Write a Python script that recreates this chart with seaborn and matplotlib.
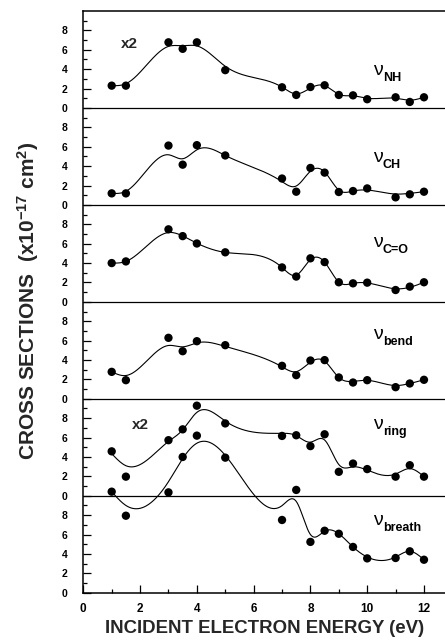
import numpy as np
import pandas as pd
import matplotlib
matplotlib.use("Agg")
import matplotlib.pyplot as plt
import seaborn as sns
from matplotlib.ticker import FixedLocator

# Incident electron energies (eV)
energy = [1, 1.5, 3, 3.5, 4, 5, 7, 7.5, 8, 8.5, 9, 9.5, 10, 11, 11.5, 12]

# Measured cross sections (x1e-17 cm^2) and smooth-fit knots, one pair per mode
nh_pts = [2.3, 2.3, 6.77, 6.1, 6.77, 3.9, 2.13, 1.34, 2.16, 2.34, 1.34, 1.3, 0.9, 1.1, 0.62, 1.1]
nh_fit = [2.3, 2.5, 6.35, 6.42, 6.4, 4.3, 2.15, 1.45, 2.05, 2.3, 1.4, 1.25, 1.0, 1.0, 0.8, 1.1]

ch_pts = [1.19, 1.19, 6.12, 4.15, 6.16, 5.1, 2.72, 1.36, 3.81, 3.33, 1.33, 1.43, 1.7, 0.78, 1.09, 1.36]
ch_fit = [1.19, 1.4, 5.17, 4.76, 5.68, 5.1, 2.4, 1.95, 3.47, 3.4, 1.53, 1.43, 1.53, 1.12, 1.19, 1.36]

co_pts = [4.0, 4.17, 7.48, 6.78, 6.02, 5.11, 3.55, 2.61, 4.49, 4.1, 2.02, 1.91, 1.98, 1.22, 1.57, 2.02]
co_fit = [4.0, 4.17, 7.15, 6.8, 6.05, 5.1, 3.55, 2.75, 4.35, 4.1, 2.05, 1.91, 1.95, 1.35, 1.5, 2.02]

bend_pts = [2.78, 1.92, 6.29, 4.91, 5.94, 5.53, 3.4, 2.44, 3.95, 3.99, 2.2, 1.68, 1.92, 1.2, 1.58, 1.96]
bend_fit = [2.78, 2.4, 5.5, 5.36, 5.77, 5.4, 3.3, 2.8, 3.78, 3.88, 2.2, 1.8, 1.9, 1.37, 1.58, 1.96]

ring_pts = [4.58, 1.97, 5.73, 6.85, 9.29, 7.46, 6.17, 6.24, 5.12, 6.34, 2.47, 3.32, 2.75, 1.97, 3.15, 1.97]
ring_fit = [4.34, 3.1, 5.6, 6.8, 8.6, 7.7, 6.44, 6.2, 5.53, 5.75, 3.22, 2.98, 2.64, 2.24, 2.8, 1.97]

breath_pts = [10.42, 7.94, 10.35, 14.0, 16.2, 13.93, 7.5, 10.6, 5.24, 6.39, 6.08, 4.72, 3.54, 3.58, 4.27, 3.4]
breath_fit = [10.42, 9.0, 11.45, 13.83, 15.42, 14.17, 8.98, 9.42, 6.0, 6.35, 6.08, 4.72, 3.68, 3.68, 4.27, 3.4]

# Panel layout: (subscript label, points, fit, vertical offset)
modes = [
    ("NH", nh_pts, nh_fit, 50),
    ("CH", ch_pts, ch_fit, 40),
    ("C=O", co_pts, co_fit, 30),
    ("bend", bend_pts, bend_fit, 20),
    ("ring", ring_pts, ring_fit, 10),
    ("breath", breath_pts, breath_fit, 0),
]
label_y = {"NH": 53.4, "CH": 44.46, "C=O": 35.69, "bend": 26.17, "ring": 16.88, "breath": 6.98}


def natural_spline(x, y, xs):
    x = np.asarray(x, float)
    y = np.asarray(y, float)
    n = len(x)
    h = np.diff(x)
    A = np.zeros((n, n))
    r = np.zeros(n)
    A[0, 0] = A[-1, -1] = 1.0
    for i in range(1, n - 1):
        A[i, i - 1] = h[i - 1]
        A[i, i] = 2 * (h[i - 1] + h[i])
        A[i, i + 1] = h[i]
        r[i] = 6 * ((y[i + 1] - y[i]) / h[i] - (y[i] - y[i - 1]) / h[i - 1])
    M = np.linalg.solve(A, r)
    idx = np.clip(np.searchsorted(x, xs) - 1, 0, n - 2)
    x0, x1 = x[idx], x[idx + 1]
    hh = x1 - x0
    return (M[idx] * (x1 - xs) ** 3 / (6 * hh) + M[idx + 1] * (xs - x0) ** 3 / (6 * hh)
            + (y[idx] / hh - M[idx] * hh / 6) * (x1 - xs)
            + (y[idx + 1] / hh - M[idx + 1] * hh / 6) * (xs - x0))


sns.set_theme(style="ticks")
plt.rcParams["font.family"] = ["Liberation Sans", "DejaVu Sans"]
plt.rcParams["mathtext.fontset"] = "custom"
plt.rcParams["mathtext.rm"] = "Liberation Sans"
plt.rcParams["mathtext.bf"] = "Liberation Sans:bold"
plt.rcParams["mathtext.it"] = "Liberation Sans:italic"
plt.rcParams["axes.edgecolor"] = "black"

W, H = 445, 640
fig = plt.figure(figsize=(W / 100, H / 100), dpi=100)
x0_px, y0_px, top_px, unit_px = 83.3, 592.7, 11.0, 28.39
ax = fig.add_axes([x0_px / W, (H - y0_px) / H, 13 * unit_px / W, (y0_px - top_px) / H])

xs = np.linspace(1, 12, 500)
for name, pts, fit, off in modes:
    pts_df = pd.DataFrame({"E": energy, "sigma": np.asarray(pts) + off})
    fit_df = pd.DataFrame({"E": xs, "sigma": natural_spline(energy, fit, xs) + off})
    sns.lineplot(data=fit_df, x="E", y="sigma", ax=ax, color="black", lw=0.8,
                 sort=False, estimator=None, zorder=2)
    sns.scatterplot(data=pts_df, x="E", y="sigma", ax=ax, s=36, color="black",
                    edgecolor="none", linewidth=0, zorder=3)
    ly = label_y[name]
    ax.text(10.2, ly, "\u03bd", fontsize=14, fontweight="normal", ha="left",
            va="baseline", color="black")
    ax.annotate(name, xy=(10.2, ly), xytext=(10, -6), textcoords="offset pixels",
                fontsize=9, fontweight="bold", ha="left", va="baseline", color="black")

for base in (10, 20, 30, 40, 50):
    ax.axhline(base, color="black", lw=0.9, zorder=1)

ax.text(1.32, 56.15, "x2", fontsize=11, fontweight="bold", ha="left", va="baseline")
ax.text(1.70, 16.85, "x2", fontsize=11, fontweight="bold", ha="left", va="baseline")

ax.set_xlim(0, 13)
ax.set_ylim(0, 60)
ax.set_xlabel("")
ax.set_ylabel("")

xt = list(range(0, 13, 2))
ax.xaxis.set_major_locator(FixedLocator(xt))
ax.set_xticklabels([str(v) for v in xt], fontweight="bold", fontsize=8.5)
ax.xaxis.set_minor_locator(FixedLocator(list(range(1, 13, 2))))
yt = list(range(0, 60, 2))
ax.yaxis.set_major_locator(FixedLocator(yt))
ax.set_yticklabels([str(v % 10) for v in yt], fontweight="bold", fontsize=7.5)
ax.yaxis.set_minor_locator(FixedLocator(list(range(1, 60, 2))))

ax.tick_params(axis="both", which="both", direction="in", top=False, right=False,
               color="black", labelcolor="black", width=0.9)
ax.tick_params(axis="both", which="major", length=5.8)
ax.tick_params(axis="both", which="minor", length=2.9)
ax.tick_params(axis="y", which="major", pad=11.5)
ax.tick_params(axis="x", which="major", pad=7.2)
for sp in ax.spines.values():
    sp.set_linewidth(1.1)
    sp.set_color("black")

fig.text(265 / W, (H - 633) / H, "INCIDENT ELECTRON ENERGY (eV)", fontsize=13.4,
         fontweight="bold", ha="center", va="baseline")
fig.text(15 / W, (H - 301) / H,
         r"CROSS SECTIONS  (x10$^{\mathbf{-17}}$ cm$^{\mathbf{2}}$)",
         fontsize=15, fontweight="bold", rotation=90, ha="left", va="center")

fig.savefig("out.png", dpi=100)
